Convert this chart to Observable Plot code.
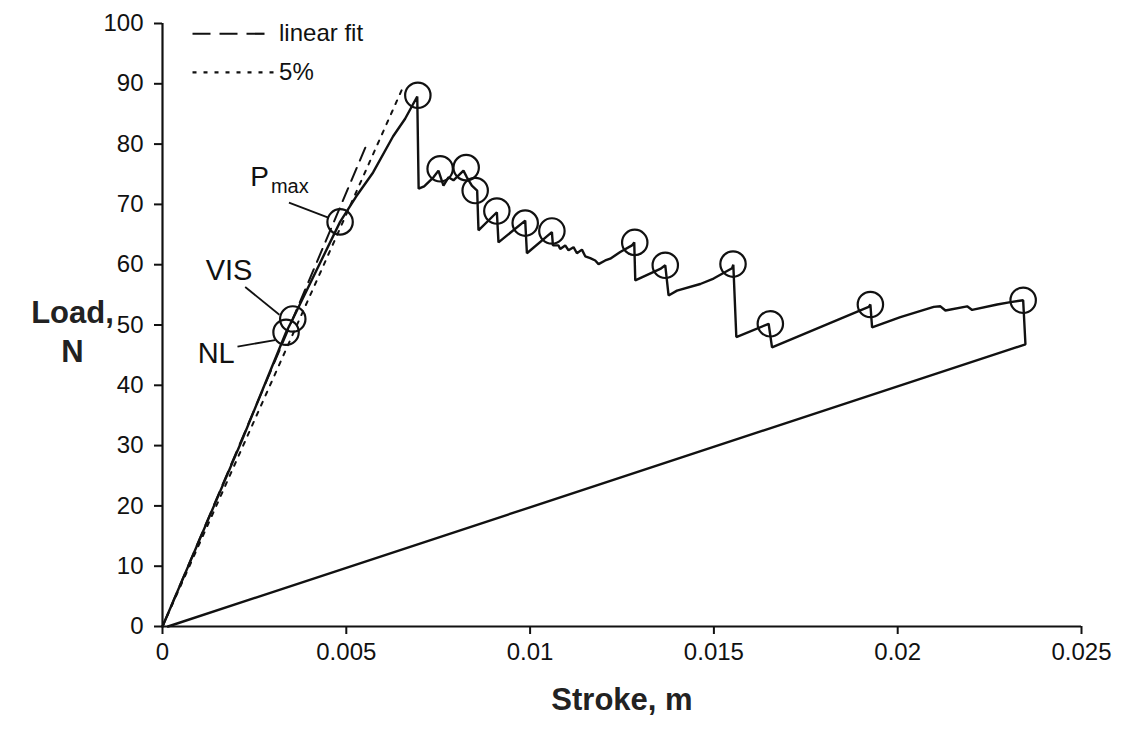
<!DOCTYPE html>
<html><head><meta charset="utf-8">
<script src="https://cdn.jsdelivr.net/npm/d3@7"></script>
<script src="https://cdn.jsdelivr.net/npm/@observablehq/plot@0.6"></script>
<style>
body{margin:0;background:#fff}
#chart svg{font-family:"Liberation Sans",Arial,sans-serif;background:#fff}
</style>
</head><body><div id="chart"></div>
<script>
// Load–stroke record (stroke in m, load in N)
const strokeM = [0, 0.002156, 0.003361, 0.003544, 0.004831, 0.005267, 0.005729, 0.006274, 0.0066, 0.00693,
  0.006968, 0.007118, 0.007371, 0.007507, 0.007643, 0.007779, 0.007915, 0.008187, 0.00828, 0.008416, 0.00856,
  0.008596, 0.009096, 0.00914, 0.009867, 0.009913, 0.010593, 0.010621, 0.010773, 0.010819, 0.010955, 0.011045,
  0.011181, 0.011274, 0.01141, 0.0115, 0.011636, 0.011772, 0.011862, 0.012044, 0.01218, 0.012452, 0.012771,
  0.012833, 0.012861, 0.013541, 0.013677, 0.013767, 0.013996, 0.01463, 0.014992, 0.015493, 0.015528, 0.01561,
  0.016489, 0.016581, 0.019211, 0.019257, 0.019303, 0.020073, 0.02098, 0.021162, 0.021298, 0.021889, 0.022025,
  0.022706, 0.023068, 0.023413, 0.023475, 0.00015];
const loadN = [0, 30.8, 48.8, 51.0, 67.1, 71.3, 75.3, 81.3, 84.2, 87.9,
  72.6, 73.0, 74.5, 75.6, 73.1, 74.5, 74.0, 75.6, 74.5, 73.1, 72.3,
  65.7, 68.7, 63.7, 67.3, 61.9, 65.4, 63.2, 63.2, 62.6, 63.2, 62.4,
  62.9, 61.9, 62.5, 61.4, 61.1, 60.7, 60.1, 60.7, 61.0, 62.1, 63.2,
  63.7, 57.4, 59.3, 59.9, 54.9, 55.7, 56.8, 57.7, 59.4, 60.0, 48.0,
  50.2, 46.3, 53.0, 53.4, 49.6, 51.3, 53.0, 53.1, 52.4, 53.1, 52.5,
  53.4, 53.8, 54.1, 46.8, 0];

// Circled events
const markerStroke = [0.003361, 0.003544, 0.004831, 0.006946, 0.007553, 0.008261, 0.008506, 0.009096, 0.009867,
  0.010593, 0.012847, 0.013677, 0.01552, 0.016535, 0.019257, 0.023413];
const markerLoad = [48.8, 51.0, 67.1, 88.1, 75.9, 76.1, 72.3, 68.9, 66.9, 65.6, 63.7, 59.9, 60.1, 50.2, 53.4, 54.1];

// Reference lines
const fitStroke = [0, 0.0056];
const fitLoad = [0, 80.6];
const fiveStroke = [0, 0.00651];
const fiveLoad = [0, 89.0];

// Axis ticks
const xTicks = [0, 0.005, 0.01, 0.015, 0.02, 0.025];
const xTickLabels = ["0", "0.005", "0.01", "0.015", "0.02", "0.025"];
const yTicks = [0, 10, 20, 30, 40, 50, 60, 70, 80, 90, 100];

// Annotations (label anchor and leader ends, data units)
const annLabels = ["VIS", "NL"];
const annX = [0.00181, 0.00146];
const annY = [59.0, 45.3];
const leadX1 = [0.00225, 0.00204];
const leadY1 = [56.3, 46.4];
const leadX2 = [0.00318, 0.00306];
const leadY2 = [51.7, 47.5];
const pmaxX = [0.00265];
const pmaxY = [74.5];
const pmaxLeadX1 = [0.00344];
const pmaxLeadY1 = [70.3];
const pmaxLeadX2 = [0.00451];
const pmaxLeadY2 = [67.8];

// Legend
const legendNames = ["linear fit", "5%"];

const curve = strokeM.map((s, i) => ({s, p: loadN[i]}));
const markers = markerStroke.map((s, i) => ({s, p: markerLoad[i]}));
const fit = fitStroke.map((s, i) => ({s, p: fitLoad[i]}));
const five = fiveStroke.map((s, i) => ({s, p: fiveLoad[i]}));
const ann = annLabels.map((t, i) => ({t, x: annX[i], y: annY[i], x1: leadX1[i], y1: leadY1[i], x2: leadX2[i], y2: leadY2[i]}));
const pmax = [{x: pmaxX[0], y: pmaxY[0], x1: pmaxLeadX1[0], y1: pmaxLeadY1[0], x2: pmaxLeadX2[0], y2: pmaxLeadY2[0]}];
const legFit = [{t: legendNames[0], x1: 0.00083, x2: 0.00279, y: 98.3}];
const legFive = [{t: legendNames[1], x1: 0.00083, x2: 0.00306, y: 91.9}];

const ink = "#111";
const chart = Plot.plot({
  width: 1126,
  height: 734,
  marginLeft: 162,
  marginRight: 45,
  marginTop: 23,
  marginBottom: 108,
  x: {domain: [0, 0.025]},
  y: {domain: [0, 100]},
  marks: [
    Plot.axisY(yTicks, {tickSize: 8, tickPadding: 11, fontSize: 24, label: null, stroke: ink, strokeWidth: 2, fill: ink}),
    Plot.axisX(xTicks, {tickSize: 8, tickPadding: 8, fontSize: 24, label: null, stroke: ink, strokeWidth: 2, fill: ink,
      tickFormat: d => xTickLabels[xTicks.indexOf(d)]}),
    Plot.ruleY([0], {stroke: ink, strokeWidth: 2.2}),
    Plot.ruleX([0], {stroke: ink, strokeWidth: 2.2}),
    Plot.line(fit, {x: "s", y: "p", stroke: ink, strokeWidth: 2, strokeDasharray: "14,8"}),
    Plot.line(five, {x: "s", y: "p", stroke: ink, strokeWidth: 2, strokeDasharray: "4,7"}),
    Plot.line(curve, {x: "s", y: "p", stroke: ink, strokeWidth: 2.4, strokeLinejoin: "miter"}),
    Plot.dot(markers, {x: "s", y: "p", r: 12.7, stroke: ink, strokeWidth: 2.2, fill: "none"}),
    Plot.link(ann, {x1: "x1", y1: "y1", x2: "x2", y2: "y2", stroke: ink, strokeWidth: 1.8}),
    Plot.link(pmax, {x1: "x1", y1: "y1", x2: "x2", y2: "y2", stroke: ink, strokeWidth: 1.8}),
    Plot.text(ann, {x: "x", y: "y", text: "t", fontSize: 29, fill: ink, textAnchor: "middle"}),
    Plot.text(pmax, {x: "x", y: "y", text: () => "P", fontSize: 28, fill: ink, textAnchor: "end", dx: 9}),
    Plot.text(pmax, {x: "x", y: "y", text: () => "max", fontSize: 20, fill: ink, textAnchor: "start", dx: 11, dy: 9}),
    Plot.ruleY(legFit, {x1: "x1", x2: "x2", y: "y", stroke: ink, strokeWidth: 2.2, strokeDasharray: "18,9"}),
    Plot.ruleY(legFive, {x1: "x1", x2: "x2", y: "y", stroke: ink, strokeWidth: 2.2, strokeDasharray: "4,7"}),
    Plot.text(legFit, {x: 0.00317, y: "y", text: "t", fontSize: 24, fill: ink, textAnchor: "start"}),
    Plot.text(legFive, {x: 0.00317, y: "y", text: "t", fontSize: 24, fill: ink, textAnchor: "start"}),
    Plot.text(["Load,"], {frameAnchor: "left", dx: -90, dy: -12, fontSize: 31, fontWeight: "bold", fill: "#222", textAnchor: "middle"}),
    Plot.text(["N"], {frameAnchor: "left", dx: -90, dy: 27, fontSize: 31, fontWeight: "bold", fill: "#222", textAnchor: "middle"}),
    Plot.text(["Stroke, m"], {frameAnchor: "bottom", dy: 83, fontSize: 31, fontWeight: "bold", fill: "#222", textAnchor: "middle"})
  ]
});
document.getElementById("chart").appendChild(chart);
</script>
</body></html>
